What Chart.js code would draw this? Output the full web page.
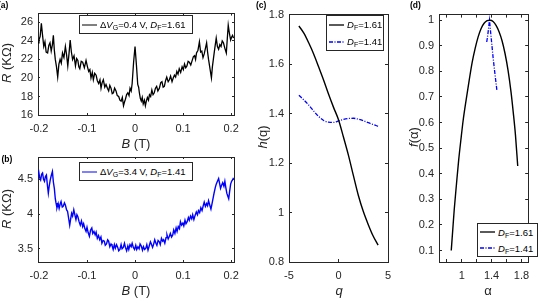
<!DOCTYPE html>
<html lang="en">
<head>
<meta charset="UTF-8">
<meta name="viewport" content="width=device-width, initial-scale=1.0">
<title>Magnetoresistance and multifractal spectra</title>
<script src="https://cdn.jsdelivr.net/npm/chart.js"></script>
<style>
    body { margin: 0; background: #fff; }
    #fig { position: relative; width: 540px; height: 298px; overflow: hidden;
           font-family: "Liberation Sans", Arial, sans-serif; color: #262626; }
    #fig canvas { position: absolute; left: 0; top: 0; }
    .tag { position: absolute; font-size: 8.5px; font-weight: bold; color: #000; line-height: 1; }
    .title { position: absolute; font-size: 13px; line-height: 1; white-space: nowrap; transform: translate(-50%, -50%); }
    .title.v { transform: translate(-50%, -50%) rotate(-90deg); }
    .leg { position: absolute; z-index: 2; background: #fff; border: 1px solid #262626; box-sizing: border-box;
           font-size: 9.5px; color: #000; white-space: nowrap; }
    .leg .row { display: flex; align-items: center; height: 17px; padding-left: 2px; }
    .leg svg { margin-right: 3px; }
    sub { font-size: 7px; vertical-align: -2px; line-height: 0; }
</style>
</head>

<body>
<div id="fig">
    <canvas id="chartA" width="540" height="298"></canvas>
    <canvas id="chartB" width="540" height="298"></canvas>
    <canvas id="chartC" width="540" height="298"></canvas>
    <canvas id="chartD" width="540" height="298"></canvas>

    <div class="tag" style="left:-2px;top:1px">(a)</div>
    <div class="tag" style="left:1.5px;top:155px">(b)</div>
    <div class="tag" style="left:256px;top:1px">(c)</div>
    <div class="tag" style="left:410px;top:1px">(d)</div>

    <div class="title" style="left:136px;top:143px"><i>B</i> (T)</div>
    <div class="title v" style="left:6px;top:63px"><i>R</i> (KΩ)</div>
    <div class="title" style="left:136px;top:290px"><i>B</i> (T)</div>
    <div class="title v" style="left:6px;top:209px"><i>R</i> (KΩ)</div>
    <div class="title" style="left:339px;top:290px"><i>q</i></div>
    <div class="title v" style="left:262px;top:137px"><i>h</i>(q)</div>
    <div class="title" style="left:488px;top:290px">α</div>
    <div class="title v" style="left:413px;top:137px"><i>f</i>(α)</div>

    <div class="leg" style="left:79px;top:15px;width:114px;height:19px">
        <div class="row"><svg width="15" height="4"><line x1="0" y1="2" x2="15" y2="2" stroke="#000" stroke-width="1"/></svg>
            <span>Δ<i>V</i><sub>G</sub>=0.4 V, <i>D</i><sub>F</sub>=1.61</span></div>
    </div>
    <div class="leg" style="left:79px;top:162px;width:114px;height:19px">
        <div class="row"><svg width="15" height="4"><line x1="0" y1="2" x2="15" y2="2" stroke="#0000ff" stroke-width="1"/></svg>
            <span>Δ<i>V</i><sub>G</sub>=3.4 V, <i>D</i><sub>F</sub>=1.41</span></div>
    </div>
    <div class="leg" style="left:326px;top:15px;width:58px;height:36px">
        <div class="row"><svg width="15" height="4"><line x1="0" y1="2" x2="15" y2="2" stroke="#000" stroke-width="1.3"/></svg>
            <span><i>D</i><sub>F</sub>=1.61</span></div>
        <div class="row"><svg width="15" height="4"><line x1="0" y1="2" x2="15" y2="2" stroke="#0000ff" stroke-width="1.3" stroke-dasharray="4,1.5,1,1.5"/></svg>
            <span><i>D</i><sub>F</sub>=1.41</span></div>
    </div>
    <div class="leg" style="left:477px;top:223px;width:61px;height:34px">
        <div class="row" style="height:16px"><svg width="15" height="4"><line x1="0" y1="2" x2="15" y2="2" stroke="#000" stroke-width="1.3"/></svg>
            <span><i>D</i><sub>F</sub>=1.61</span></div>
        <div class="row" style="height:16px"><svg width="15" height="4"><line x1="0" y1="2" x2="15" y2="2" stroke="#0000ff" stroke-width="1.3" stroke-dasharray="4,1.5,1,1.5"/></svg>
            <span><i>D</i><sub>F</sub>=1.41</span></div>
    </div>
</div>

<script>
    // (a) R(B) at dVg = 0.4 V
    const aB = [
        -0.2020, -0.2000, -0.1975, -0.1950, -0.1925, -0.1900, -0.1875, -0.1850, -0.1820, -0.1795,
        -0.1770, -0.1745, -0.1720, -0.1700, -0.1680, -0.1660, -0.1635, -0.1610, -0.1585, -0.1560,
        -0.1535, -0.1510, -0.1480, -0.1450, -0.1425, -0.1400, -0.1375, -0.1350, -0.1325, -0.1300,
        -0.1270, -0.1240, -0.1215, -0.1190, -0.1170, -0.1150, -0.1120, -0.1090, -0.1055, -0.1020,
        -0.0990, -0.0965, -0.0940, -0.0917, -0.0890, -0.0868, -0.0840, -0.0810, -0.0785, -0.0757,
        -0.0730, -0.0708, -0.0685, -0.0660, -0.0630, -0.0604, -0.0575, -0.0549, -0.0525, -0.0500,
        -0.0475, -0.0450, -0.0425, -0.0396, -0.0370, -0.0340, -0.0315, -0.0290, -0.0265, -0.0240,
        -0.0220, -0.0200, -0.0175, -0.0150, -0.0125, -0.0104, -0.0080, -0.0060, -0.0030, 0.0000,
        0.0030, 0.0056, 0.0075, 0.0090, 0.0110, 0.0130, 0.0150, 0.0170, 0.0195, 0.0215,
        0.0235, 0.0257, 0.0280, 0.0300, 0.0325, 0.0350, 0.0375, 0.0400, 0.0425, 0.0450,
        0.0475, 0.0507, 0.0535, 0.0560, 0.0585, 0.0610, 0.0635, 0.0660, 0.0690, 0.0715,
        0.0740, 0.0770, 0.0795, 0.0820, 0.0845, 0.0870, 0.0895, 0.0920, 0.0950, 0.0980,
        0.1005, 0.1030, 0.1055, 0.1080, 0.1105, 0.1130, 0.1160, 0.1190, 0.1215, 0.1240,
        0.1260, 0.1280, 0.1310, 0.1340, 0.1365, 0.1390, 0.1415, 0.1440, 0.1465, 0.1490,
        0.1510, 0.1530, 0.1560, 0.1590, 0.1610, 0.1630, 0.1660, 0.1690, 0.1715, 0.1740,
        0.1765, 0.1790, 0.1815, 0.1840, 0.1870, 0.1900, 0.1920, 0.1940, 0.1965, 0.1990,
        0.2010, 0.2030, 0.2050
    ];
    const aR = [
        23.8, 24.1, 24.5, 25.9, 24.6, 23.4, 23.9, 22.8, 22.7, 23.5,
        23.8, 22.9, 23.6, 24.6, 23.0, 22.0, 21.2, 20.1, 21.5, 22.0,
        21.6, 22.7, 22.2, 23.4, 22.5, 21.3, 22.6, 24.1, 22.8, 22.0,
        22.4, 21.3, 22.1, 21.9, 21.2, 21.0, 21.8, 21.7, 21.1, 21.9,
        21.2, 20.7, 20.9, 20.0, 20.6, 19.8, 20.5, 20.3, 19.7, 19.4,
        19.8, 18.9, 19.5, 19.8, 19.0, 19.3, 18.9, 18.6, 19.2, 18.9,
        18.3, 18.4, 18.9, 18.6, 18.1, 18.0, 17.6, 17.5, 17.9, 17.0,
        17.4, 17.7, 18.2, 18.4, 18.1, 18.9, 18.6, 19.4, 21.7, 23.4,
        21.3, 19.3, 19.0, 18.4, 17.8, 17.5, 17.9, 17.2, 17.6, 17.0,
        17.5, 17.9, 17.6, 18.2, 18.0, 18.7, 18.2, 18.4, 18.9, 19.1,
        18.6, 18.9, 19.5, 19.6, 19.0, 19.1, 19.7, 20.1, 19.6, 19.8,
        20.2, 19.6, 20.0, 20.3, 20.1, 20.7, 20.4, 21.0, 20.6, 21.2,
        20.9, 21.5, 21.1, 21.3, 21.8, 21.7, 21.4, 21.9, 22.3, 22.4,
        22.0, 22.7, 23.0, 23.9, 22.8, 22.9, 22.2, 22.6, 23.2, 23.8,
        22.8, 22.0, 21.0, 20.0, 21.2, 22.0, 23.2, 24.3, 23.4, 23.1,
        23.6, 23.4, 24.0, 23.8, 23.2, 22.7, 24.2, 25.7, 24.8, 24.1,
        24.4, 24.6, 24.3
    ];

    // (b) R(B) at dVg = 3.4 V
    const bB = [
        -0.2025, -0.2005, -0.1985, -0.1965, -0.1945, -0.1925, -0.1905, -0.1885, -0.1865, -0.1845,
        -0.1825, -0.1805, -0.1785, -0.1765, -0.1745, -0.1720, -0.1700, -0.1680, -0.1660, -0.1645,
        -0.1625, -0.1600, -0.1580, -0.1560, -0.1540, -0.1515, -0.1495, -0.1470, -0.1450, -0.1425,
        -0.1405, -0.1385, -0.1360, -0.1340, -0.1320, -0.1300, -0.1275, -0.1250, -0.1230, -0.1210,
        -0.1190, -0.1165, -0.1140, -0.1115, -0.1090, -0.1070, -0.1045, -0.1020, -0.1000, -0.0975,
        -0.0950, -0.0925, -0.0900, -0.0880, -0.0855, -0.0830, -0.0810, -0.0785, -0.0760, -0.0735,
        -0.0710, -0.0690, -0.0665, -0.0640, -0.0620, -0.0595, -0.0570, -0.0550, -0.0525, -0.0500,
        -0.0480, -0.0455, -0.0430, -0.0410, -0.0385, -0.0360, -0.0340, -0.0315, -0.0290, -0.0270,
        -0.0245, -0.0220, -0.0200, -0.0175, -0.0150, -0.0130, -0.0105, -0.0080, -0.0060, -0.0035,
        -0.0010, 0.0015, 0.0035, 0.0060, 0.0085, 0.0105, 0.0130, 0.0155, 0.0175, 0.0200,
        0.0225, 0.0245, 0.0270, 0.0295, 0.0320, 0.0340, 0.0365, 0.0385, 0.0410, 0.0435,
        0.0455, 0.0480, 0.0505, 0.0525, 0.0550, 0.0575, 0.0595, 0.0620, 0.0645, 0.0665,
        0.0690, 0.0715, 0.0735, 0.0760, 0.0785, 0.0805, 0.0830, 0.0855, 0.0875, 0.0900,
        0.0925, 0.0945, 0.0970, 0.0995, 0.1015, 0.1040, 0.1060, 0.1085, 0.1110, 0.1130,
        0.1155, 0.1180, 0.1200, 0.1225, 0.1250, 0.1275, 0.1300, 0.1320, 0.1345, 0.1370,
        0.1395, 0.1420, 0.1440, 0.1465, 0.1490, 0.1510, 0.1530, 0.1555, 0.1580, 0.1600,
        0.1620, 0.1645, 0.1670, 0.1690, 0.1715, 0.1740, 0.1760, 0.1780, 0.1800, 0.1825,
        0.1850, 0.1870, 0.1890, 0.1910, 0.1930, 0.1950, 0.1970, 0.1990, 0.2010, 0.2030,
        0.2050
    ];
    const bR = [
        4.58, 4.61, 4.52, 4.49, 4.57, 4.59, 4.50, 4.47, 4.54, 4.56,
        4.42, 4.30, 4.41, 4.49, 4.55, 4.61, 4.46, 4.37, 4.22, 4.16,
        4.09, 4.15, 4.08, 4.14, 4.18, 4.10, 4.11, 4.16, 4.13, 4.06,
        4.04, 3.95, 3.84, 3.93, 4.01, 3.97, 4.06, 3.98, 3.92, 3.99,
        3.96, 3.89, 3.84, 3.90, 3.82, 3.86, 3.79, 3.75, 3.81, 3.73,
        3.68, 3.77, 3.80, 3.72, 3.75, 3.70, 3.74, 3.65, 3.69, 3.63,
        3.67, 3.58, 3.62, 3.61, 3.55, 3.57, 3.63, 3.61, 3.53, 3.57,
        3.55, 3.49, 3.56, 3.51, 3.56, 3.52, 3.47, 3.49, 3.56, 3.50,
        3.52, 3.58, 3.52, 3.47, 3.54, 3.49, 3.56, 3.53, 3.58, 3.52,
        3.49, 3.55, 3.49, 3.53, 3.50, 3.57, 3.54, 3.48, 3.53, 3.49,
        3.51, 3.56, 3.48, 3.54, 3.60, 3.57, 3.52, 3.56, 3.63, 3.58,
        3.55, 3.62, 3.60, 3.56, 3.65, 3.61, 3.63, 3.58, 3.66, 3.70,
        3.64, 3.68, 3.72, 3.67, 3.70, 3.77, 3.72, 3.80, 3.75, 3.82,
        3.79, 3.89, 3.84, 3.87, 3.83, 3.91, 3.86, 3.89, 3.95, 3.91,
        3.97, 3.93, 3.99, 3.92, 3.98, 4.03, 3.99, 4.05, 4.02, 4.09,
        4.05, 4.12, 4.17, 4.11, 4.15, 4.12, 4.19, 4.13, 4.07, 4.14,
        4.21, 4.30, 4.38, 4.43, 4.47, 4.51, 4.44, 4.37, 4.41, 4.45,
        4.40, 4.47, 4.38, 4.30, 4.26, 4.22, 4.33, 4.43, 4.47, 4.49,
        4.52
    ];

    // (c) generalized Hurst exponent h(q)
    const cQ = [-4, -3.5, -3, -2.5, -2, -1.5, -1, -0.5, 0, 0.5, 1, 1.5, 2, 2.5, 3, 3.5, 4];
    const cH161 = [1.754, 1.725, 1.685, 1.640, 1.588, 1.535, 1.478, 1.425, 1.375, 1.305, 1.232, 1.150, 1.070, 1.005, 0.952, 0.905, 0.868];
    const cH141 = [1.474, 1.455, 1.434, 1.410, 1.388, 1.372, 1.365, 1.364, 1.370, 1.376, 1.380, 1.381, 1.377, 1.371, 1.363, 1.356, 1.348];

    // (d) singularity spectrum f(alpha)
    const dA161 = [0.86, 0.88, 0.90, 0.93, 0.96, 0.99, 1.02, 1.06, 1.10, 1.14, 1.18, 1.22, 1.26, 1.30, 1.34, 1.38, 1.42, 1.46, 1.50, 1.54, 1.58, 1.62, 1.66, 1.69, 1.72, 1.75];
    const dF161 = [0.10, 0.18, 0.26, 0.36, 0.455, 0.535, 0.61, 0.69, 0.765, 0.835, 0.89, 0.935, 0.968, 0.988, 0.998, 1.0, 0.995, 0.98, 0.955, 0.92, 0.87, 0.805, 0.72, 0.64, 0.55, 0.43];
    const dA141 = [1.335, 1.350, 1.362, 1.372, 1.385, 1.400, 1.420, 1.445, 1.472];
    const dF141 = [0.915, 0.945, 0.975, 1.000, 0.960, 0.915, 0.855, 0.790, 0.724];

    // ticks
    const abXTicks = [-0.2, -0.1, 0, 0.1, 0.2];
    const abXLabels = ['-0.2', '-0.1', '0', '0.1', '0.2'];
    const aYTicks = [16, 18, 20, 22, 24, 26];
    const aYLabels = ['16', '18', '20', '22', '24', '26'];
    const bYTicks = [3.5, 4, 4.5];
    const bYLabels = ['3.5', '4', '4.5'];
    const cXTicks = [-5, 0, 5];
    const cXLabels = ['-5', '0', '5'];
    const cYTicks = [0.8, 1, 1.2, 1.4, 1.6, 1.8];
    const cYLabels = ['0.8', '1', '1.2', '1.4', '1.6', '1.8'];
    const dXTicks = [0.8, 1, 1.2, 1.4, 1.6, 1.8];
    const dXLabels = ['', '1', '', '1.4', '', '1.8'];
    const dYTicks = [0.1, 0.2, 0.3, 0.4, 0.5, 0.6, 0.7, 0.8, 0.9, 1];
    const dYLabels = ['0.1', '0.2', '0.3', '0.4', '0.5', '0.6', '0.7', '0.8', '0.9', '1'];

    const ink = '#262626';
    const AXIS_W = 34;   // room kept for y tick labels
    const AXIS_H = 22;   // room kept for x tick labels
    Chart.defaults.font.family = '"Liberation Sans", Arial, sans-serif';
    Chart.defaults.color = ink;

    function pts(xs, ys) {
        return xs.map((x, i) => ({ x: x, y: ys[i] }));
    }

    // one side of the boxed axes, ticks pointing inwards
    function edge(position, min, max, ticks, labels, tickLen) {
        const across = position === 'top' || position === 'bottom';
        const size = labels === null ? 0 : (across ? AXIS_H : AXIS_W);
        return {
            type: 'linear', position: position, min: min, max: max,
            afterBuildTicks: function (s) { s.ticks = ticks.map(v => ({ value: v })); },
            afterFit: function (s) { if (across) s.height = size; else s.width = size; },
            border: { display: true, color: ink, width: 1 },
            grid: { drawOnChartArea: false, drawTicks: true, tickLength: -tickLen, color: ink, lineWidth: 1 },
            ticks: {
                display: labels !== null, autoSkip: false, maxRotation: 0, minRotation: 0,
                padding: across ? 7 + tickLen : 5 + tickLen,
                font: { size: 11 }, color: ink,
                callback: function (v, i) { return labels ? labels[i] : ''; }
            }
        };
    }

    // box = plot area edges in page pixels
    function panel(id, box, xs, ys, datasets, tickLen) {
        return new Chart(document.getElementById(id), {
            type: 'line',
            data: { datasets: datasets },
            options: {
                responsive: false,
                animation: false,
                devicePixelRatio: 1,
                events: [],
                layout: {
                    padding: { left: box.left - AXIS_W, top: box.top, right: 540 - box.right, bottom: 298 - box.bottom - AXIS_H },
                    autoPadding: false
                },
                plugins: { legend: { display: false }, tooltip: { enabled: false } },
                elements: { point: { radius: 0 } },
                scales: {
                    x: edge('bottom', xs.min, xs.max, xs.ticks, xs.labels, tickLen),
                    y: edge('left', ys.min, ys.max, ys.ticks, ys.labels, tickLen),
                    x2: edge('top', xs.min, xs.max, xs.ticks, null, tickLen),
                    y2: edge('right', ys.min, ys.max, ys.ticks, null, tickLen)
                }
            }
        });
    }

    panel('chartA', { left: 38, top: 11, right: 234, bottom: 115 },
        { min: -0.202, max: 0.206, ticks: abXTicks, labels: abXLabels },
        { min: 16, max: 26.95, ticks: aYTicks, labels: aYLabels },
        [{ data: pts(aB, aR), borderColor: '#000000', borderWidth: 1.3, tension: 0 }], 2);

    panel('chartB', { left: 38, top: 157, right: 234, bottom: 262 },
        { min: -0.202, max: 0.206, ticks: abXTicks, labels: abXLabels },
        { min: 3.31, max: 4.82, ticks: bYTicks, labels: bYLabels },
        [{ data: pts(bB, bR), borderColor: '#0000ff', borderWidth: 1.4, tension: 0 }], 2);

    panel('chartC', { left: 289, top: 11, right: 388, bottom: 262 },
        { min: -5, max: 5, ticks: cXTicks, labels: cXLabels },
        { min: 0.8, max: 1.8, ticks: cYTicks, labels: cYLabels },
        [
            { data: pts(cQ, cH161), borderColor: '#000000', borderWidth: 1.4, cubicInterpolationMode: 'monotone' },
            { data: pts(cQ, cH141), borderColor: '#0000ff', borderWidth: 1.3, borderDash: [4, 1.5, 1, 1.5], cubicInterpolationMode: 'monotone' }
        ], 3);

    panel('chartD', { left: 439, top: 11, right: 538, bottom: 262 },
        { min: 0.696, max: 1.89, ticks: dXTicks, labels: dXLabels },
        { min: 0.055, max: 1.022, ticks: dYTicks, labels: dYLabels },
        [
            { data: pts(dA161, dF161), borderColor: '#000000', borderWidth: 1.4, cubicInterpolationMode: 'monotone' },
            { data: pts(dA141, dF141), borderColor: '#0000ff', borderWidth: 1.3, borderDash: [4, 1.5, 1, 1.5], tension: 0 }
        ], 3);
</script>
</body>
</html>
